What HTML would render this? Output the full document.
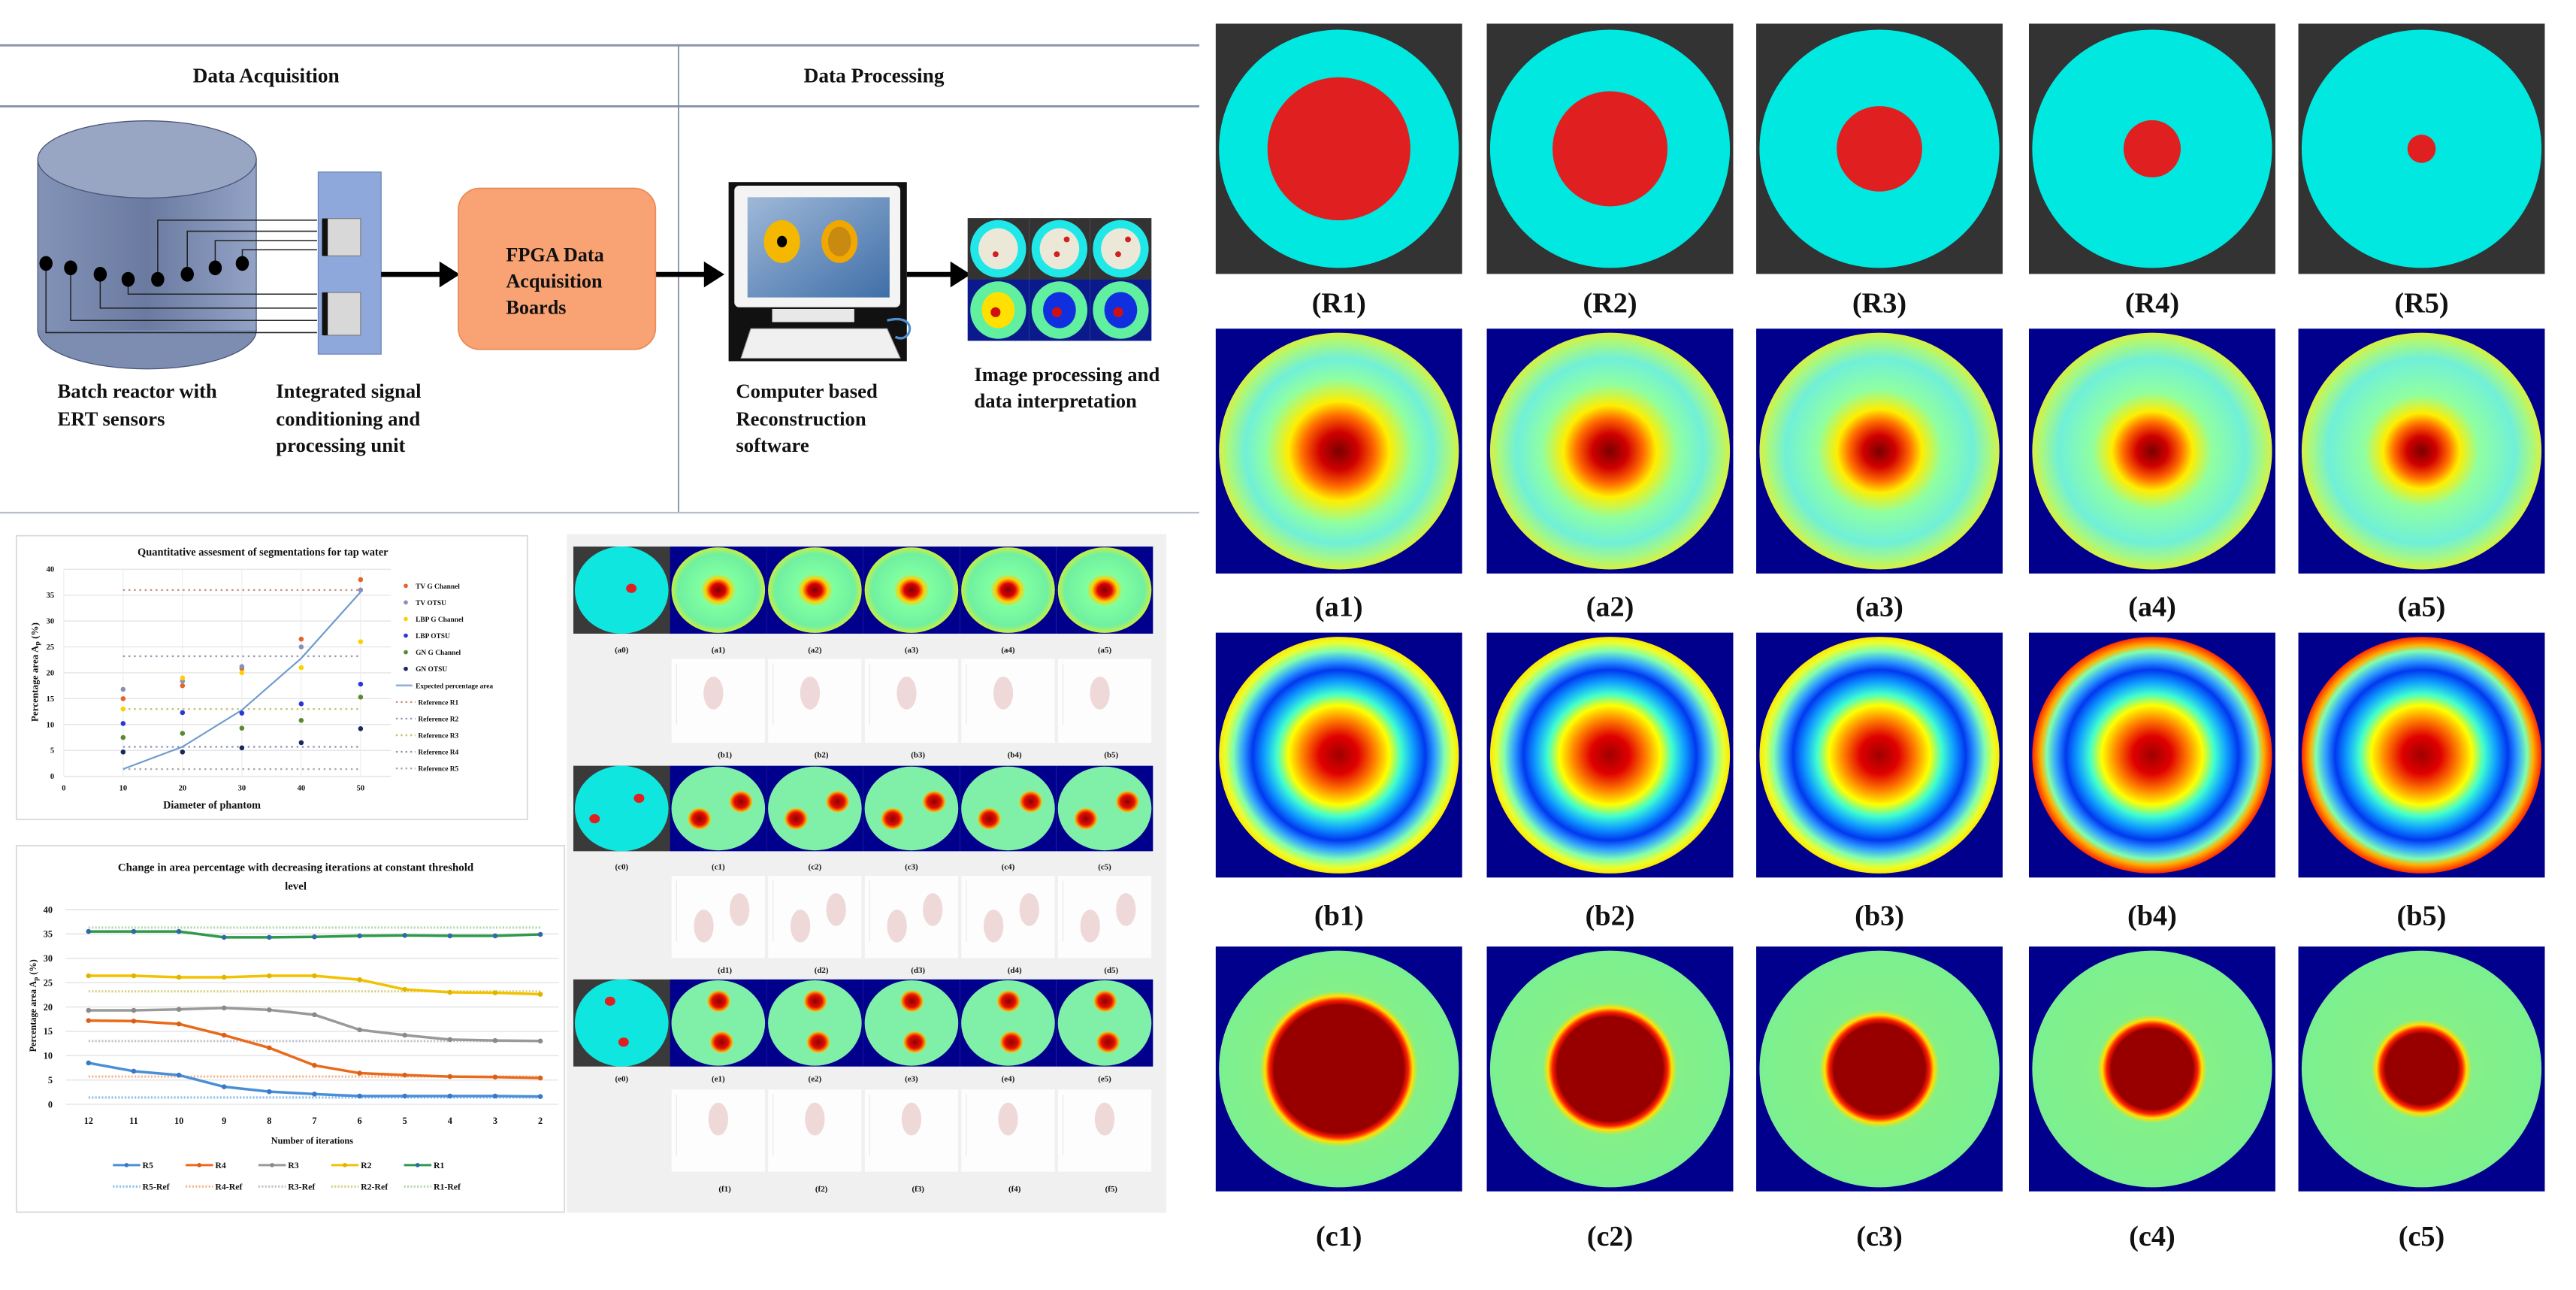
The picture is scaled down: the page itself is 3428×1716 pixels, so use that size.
<!DOCTYPE html>
<html><head><meta charset="utf-8"><title>ERT figure</title>
<style>
html,body{margin:0;padding:0;background:#fff;}
svg{display:block;}
text{font-family:"Liberation Serif",serif;font-weight:bold;fill:#111;}
</style></head>
<body>
<svg id="fig" xmlns="http://www.w3.org/2000/svg" width="3428" height="1716" viewBox="0 0 1568 785" preserveAspectRatio="none">
<defs>
<linearGradient id="cylGrad" x1="0" x2="1" y1="0" y2="0">
<stop offset="0" stop-color="#8393b8"/><stop offset="0.5" stop-color="#6b7aa0"/><stop offset="1" stop-color="#93a3c6"/>
</linearGradient>
<linearGradient id="screenGrad" x1="0" x2="1" y1="0" y2="1">
<stop offset="0" stop-color="#9fb8d8"/><stop offset="1" stop-color="#3f6fa8"/>
</linearGradient>
</defs>
<rect x="0" y="0" width="1568" height="785" fill="#ffffff"/>

<!-- ===== Top-left workflow diagram ===== -->
<g>
<line x1="0" y1="27.6" x2="730" y2="27.6" stroke="#8a93a8" stroke-width="1.3"/>
<line x1="0" y1="64.7" x2="730" y2="64.7" stroke="#8a93a8" stroke-width="1.3"/>
<line x1="413" y1="27.6" x2="413" y2="312" stroke="#7e8aa8" stroke-width="0.8"/>
<line x1="0" y1="312" x2="730" y2="312" stroke="#b8bfcc" stroke-width="1"/>
<text x="162" y="50" font-size="12.5" text-anchor="middle">Data Acquisition</text>
<text x="532" y="50" font-size="12.5" text-anchor="middle">Data Processing</text>

<g>
<rect x="23" y="97" width="133" height="104" fill="url(#cylGrad)" stroke="#4a5575" stroke-width="0.6"/>
<ellipse cx="89.5" cy="201" rx="66.5" ry="23.5" fill="#7d8db2" stroke="#4a5575" stroke-width="0.6"/>
<rect x="23.3" y="97" width="132.4" height="104" fill="url(#cylGrad)"/>
<ellipse cx="89.5" cy="97" rx="66.5" ry="23.5" fill="#98a6c4" stroke="#4a5575" stroke-width="0.6"/>
</g>
<g stroke="#222" stroke-width="0.7" fill="none">
<polyline points="96,170 96,134 193,134"/>
<polyline points="114,166.9 114,140.7 193,140.7"/>
<polyline points="131,163 131,146.4 193,146.4"/>
<polyline points="147.5,160.3 147.5,152 193,152"/>
<polyline points="28,160.3 28,202.4 193,202.4"/>
<polyline points="43,163 43,195 193,195"/>
<polyline points="61,166.9 61,187.5 193,187.5"/>
<polyline points="78,170 78,179 193,179"/>
</g>
<g fill="#000">
<ellipse cx="28" cy="160.3" rx="4" ry="4.5"/><ellipse cx="43" cy="163" rx="4" ry="4.5"/>
<ellipse cx="61" cy="166.9" rx="4" ry="4.5"/><ellipse cx="78" cy="170" rx="4" ry="4.5"/>
<ellipse cx="96" cy="170" rx="4" ry="4.5"/><ellipse cx="114" cy="166.9" rx="4" ry="4.5"/>
<ellipse cx="131" cy="163" rx="4" ry="4.5"/><ellipse cx="147.5" cy="160.3" rx="4" ry="4.5"/>
</g>
<g>
<rect x="193.7" y="104.7" width="38.3" height="110.8" fill="#8fa8dc" stroke="#6f86bd" stroke-width="0.6"/>
<rect x="197" y="133" width="22.5" height="22.7" fill="#d8d8d8" stroke="#777" stroke-width="0.5"/>
<rect x="197" y="178" width="22.5" height="26" fill="#d8d8d8" stroke="#777" stroke-width="0.5"/>
<rect x="196" y="133" width="3.5" height="22.7" fill="#111"/>
<rect x="196" y="178" width="3.5" height="26" fill="#111"/>
</g>
<g fill="#000" stroke="#000">
<line x1="232" y1="167" x2="270" y2="167" stroke-width="3"/><polygon points="268,160 279,167 268,174"/>
<line x1="399" y1="167" x2="431" y2="167" stroke-width="3"/><polygon points="429,160 440,167 429,174"/>
<line x1="552" y1="167" x2="581" y2="167" stroke-width="3"/><polygon points="579,160 590,167 579,174"/>
</g>
<g>
<rect x="279" y="114.6" width="120" height="98" rx="13" fill="#f9a273" stroke="#e88b58" stroke-width="0.8"/>
<text x="308" y="159" font-size="12">FPGA Data</text>
<text x="308" y="175" font-size="12">Acquisition</text>
<text x="308" y="191" font-size="12">Boards</text>
</g>
<g>
<rect x="443.5" y="110.8" width="108.5" height="109" fill="#111"/>
<rect x="447" y="113" width="101" height="74" rx="3" fill="#f4f4f4"/>
<rect x="455" y="120" width="86.5" height="61" fill="url(#screenGrad)"/>
<ellipse cx="476" cy="147" rx="11" ry="13" fill="#f5b800"/>
<ellipse cx="476" cy="147" rx="3" ry="3.5" fill="#000"/>
<ellipse cx="511" cy="147" rx="11" ry="13" fill="#f0a800"/>
<ellipse cx="511" cy="147" rx="7" ry="9" fill="#c88a10"/>
<rect x="470" y="188" width="50" height="8" fill="#e8e8e8"/>
<polygon points="451,218 457,200 540,200 548,218" fill="#f0f0f0" stroke="#999" stroke-width="0.5"/>
<path d="M540,195 C560,190 555,210 545,205" stroke="#4f8fd0" stroke-width="1.5" fill="none"/>
</g>
<g id="miniGrid"></g>
<g font-size="12.2">
<text x="35" y="242">Batch reactor with</text>
<text x="35" y="259">ERT sensors</text>
<text x="168" y="242">Integrated signal</text>
<text x="168" y="259">conditioning and</text>
<text x="168" y="275">processing unit</text>
<text x="448" y="242">Computer based</text>
<text x="448" y="259">Reconstruction</text>
<text x="448" y="275">software</text>
<text x="593" y="232">Image processing and</text>
<text x="593" y="248">data interpretation</text>
</g>
</g>

<!-- ===== Chart 1 ===== -->
<g id="chart1">
<rect x="10" y="326" width="311" height="172.7" fill="#fff" stroke="#d8d8d8" stroke-width="0.8"/>
<text x="160" y="338" font-size="6.6" text-anchor="middle">Quantitative assesment of segmentations for tap water</text>
<text x="129" y="492" font-size="6.5" text-anchor="middle">Diameter of phantom</text>
<text x="23" y="409" font-size="6" text-anchor="middle" transform="rotate(-90 23 409)">Percentage area A<tspan font-size="4.5" dy="1">p</tspan><tspan dy="-1"> (%)</tspan></text>
</g>

<!-- ===== Chart 2 ===== -->
<g id="chart2">
<rect x="10" y="514.6" width="333.6" height="223" fill="#fff" stroke="#d8d8d8" stroke-width="0.8"/>
<text x="180" y="530" font-size="6.8" text-anchor="middle">Change in area percentage with decreasing iterations at constant threshold</text>
<text x="180" y="541.5" font-size="6.8" text-anchor="middle">level</text>
<text x="190" y="696" font-size="5.6" text-anchor="middle">Number of iterations</text>
<text x="22" y="612" font-size="5.6" text-anchor="middle" transform="rotate(-90 22 612)">Percentage area A<tspan font-size="4.2" dy="1">p</tspan><tspan dy="-1"> (%)</tspan></text>
</g>

<!-- ===== Middle panel ===== -->
<g id="midPanel">
<rect x="345" y="325" width="365" height="413" fill="#f0f0f0"/>
</g>

<!-- ===== Right grid ===== -->
<g id="rightGrid"></g>
</svg>

<script>
const NS = "http://www.w3.org/2000/svg";
const svg = document.getElementById('fig');
function mk(tag, attrs, parent){
  const e = document.createElementNS(NS, tag);
  for (const k in attrs) e.setAttribute(k, attrs[k]);
  (parent || svg).appendChild(e);
  return e;
}
const defs = svg.querySelector('defs');
function grad(id, stops){
  const g = mk('radialGradient', {id: id, cx: 0.5, cy: 0.5, r: 0.5}, defs);
  stops.forEach(s => mk('stop', {offset: s[0], 'stop-color': s[1]}, g));
}

/* ---------- Chart 1 data ---------- */
const c1Diam = [10, 20, 30, 40, 50];
const c1Yticks = [0, 5, 10, 15, 20, 25, 30, 35, 40];
const c1Xticks = [0, 10, 20, 30, 40, 50];
const tvG = [15, 17.5, 20.8, 26.5, 38];
const tvO = [16.8, 18.4, 21.2, 25, 36];
const lbpG = [13, 19, 20, 21, 26];
const lbpO = [10.2, 12.3, 12.2, 14, 17.8];
const gnG = [7.5, 8.3, 9.3, 10.8, 15.3];
const gnO = [4.7, 4.7, 5.5, 6.5, 9.2];
const expected = [1.4, 5.7, 12.8, 22.8, 35.6];
const refVals1 = [36, 23.2, 13, 5.7, 1.4];
const c1Series = ['TV G Channel','TV OTSU','LBP G Channel','LBP OTSU','GN G Channel','GN OTSU'];
const c1Colors = ['#e2652a','#8a8fb8','#ffd000','#2838d8','#5a8a30','#1a2660'];
const c1RefNames = ['Reference R1','Reference R2','Reference R3','Reference R4','Reference R5'];
const c1RefColors = ['#c89088','#9a98b8','#c8c078','#8898b8','#a8a8a8'];

const ch1 = document.getElementById('chart1');
const x1 = v => 38.8 + v * (219.5 - 38.8) / 50;
const y1 = v => 472.4 - v * (472.4 - 346.4) / 40;
c1Yticks.forEach(t => {
  const gl = mk('line', {x1: x1(0), x2: 238, y1: y1(t), y2: y1(t), stroke: '#e3e3e3', 'stroke-width': 0.6}, ch1);
  
  
  const tl = mk('text', {x: 33, y: y1(t) + 1.6, 'font-size': 4.8, 'text-anchor': 'end'}, ch1);
  tl.textContent = t;
  
  
});
c1Xticks.forEach(t => {
  const vl = mk('line', {x1: x1(t), x2: x1(t), y1: y1(0), y2: y1(40), stroke: '#ececec', 'stroke-width': 0.5}, ch1);
  
  
  const tl = mk('text', {x: x1(t), y: 481, 'font-size': 4.8, 'text-anchor': 'middle'}, ch1);
  tl.textContent = t;
  
  
});
refVals1.forEach((v, i) => {
  const l = mk('line', {x1: x1(10), x2: x1(50), y1: y1(v), y2: y1(v), stroke: c1RefColors[i], 'stroke-width': 1.1, 'stroke-dasharray': '1.1 2.2'}, ch1);
  
  
});
const expPath = mk('path', {d: expected.map((v, i) => (i ? 'L' : 'M') + x1(c1Diam[i]) + ',' + y1(v)).join(' '), fill: 'none', stroke: '#6f9ccc', 'stroke-width': 1}, ch1);


[tvG, tvO, lbpG, lbpO, gnG, gnO].forEach((arr, s) => {
  arr.forEach((v, i) => {
    const p = mk('circle', {cx: x1(c1Diam[i]), cy: y1(v), r: 1.5, fill: c1Colors[s]}, ch1);
    
    
  });
});
const c1LegNames = c1Series.concat(['Expected percentage area'], c1RefNames);
c1LegNames.forEach((n, i) => {
  const ly = 356.5 + i * 10.1;
  if (i < 6) {
    const d = mk('circle', {cx: 247, cy: ly, r: 1.3, fill: c1Colors[i]}, ch1);
    
    
  } else if (i === 6) {
    const d = mk('line', {x1: 241, x2: 251, y1: ly, y2: ly, stroke: '#8fb0d8', 'stroke-width': 1.2}, ch1);
    
    
  } else {
    const d = mk('line', {x1: 241, x2: 253, y1: ly, y2: ly, stroke: c1RefColors[i - 7], 'stroke-width': 1.1, 'stroke-dasharray': '1.1 1.8'}, ch1);
    
    
  }
  const t = mk('text', {x: i >= 7 ? 254.5 : 253, y: ly + 1.6, 'font-size': 4.3}, ch1);
  t.textContent = n;
  
  
});

/* ---------- Chart 2 data ---------- */
const iterLabels = ['12','11','10','9','8','7','6','5','4','3','2'];
const c2Yticks = [0, 5, 10, 15, 20, 25, 30, 35, 40];
const r5Vals = [8.5, 6.8, 6, 3.6, 2.6, 2.1, 1.7, 1.7, 1.7, 1.7, 1.6];
const r4Vals = [17.2, 17.1, 16.5, 14.2, 11.6, 8, 6.4, 6, 5.7, 5.6, 5.4];
const r3Vals = [19.3, 19.3, 19.5, 19.8, 19.4, 18.4, 15.3, 14.2, 13.3, 13.1, 13];
const r2Vals = [26.4, 26.4, 26.1, 26.1, 26.4, 26.4, 25.6, 23.6, 23, 22.9, 22.6];
const r1Vals = [35.5, 35.5, 35.5, 34.3, 34.3, 34.4, 34.6, 34.7, 34.6, 34.6, 34.9];
const c2RefVals = [1.4, 5.7, 13, 23.2, 36.3];
const c2Names = ['R5','R4','R3','R2','R1'];
const c2Colors = ['#4a8ed8','#ea6a1c','#9a9a9a','#f2c200','#2e9a4a'];
const c2MarkColors = ['#3a78c8','#d8601a','#8a8a8a','#e0b400','#2e6aa8'];
const c2RefColors = ['#8cc0ec','#f4b890','#c0c4cc','#d8d088','#b8d8b0'];

const ch2 = document.getElementById('chart2');
const x2 = i => 53.9 + i * 27.5;
const y2 = v => 672 - v * (672 - 553.5) / 40;
c2Yticks.forEach(t => {
  const gl = mk('line', {x1: 40, x2: 340, y1: y2(t), y2: y2(t), stroke: '#e5e5e5', 'stroke-width': 0.7}, ch2);
  
  
  const tl = mk('text', {x: 32, y: y2(t) + 2, 'font-size': 5.6, 'text-anchor': 'end'}, ch2);
  tl.textContent = t;
  
  
});
iterLabels.forEach((lab, i) => {
  const tl = mk('text', {x: x2(i), y: 684, 'font-size': 5.6, 'text-anchor': 'middle'}, ch2);
  tl.textContent = lab;
  
  
});
c2RefVals.forEach((v, s) => {
  const l = mk('line', {x1: x2(0), x2: x2(10), y1: y2(v), y2: y2(v), stroke: c2RefColors[s], 'stroke-width': 1.4, 'stroke-dasharray': '1 1'}, ch2);
  
  
});
[r5Vals, r4Vals, r3Vals, r2Vals, r1Vals].forEach((arr, s) => {
  const p = mk('path', {d: arr.map((v, i) => (i ? 'L' : 'M') + x2(i) + ',' + y2(v)).join(' '), fill: 'none', stroke: c2Colors[s], 'stroke-width': 1.6, 'stroke-linejoin': 'round'}, ch2);
  
  
  arr.forEach((v, i) => {
    const m = mk('circle', {cx: x2(i), cy: y2(v), r: 1.5, fill: c2MarkColors[s]}, ch2);
    
    
  });
});
c2Names.forEach((n, s) => {
  const lx = 68.7 + s * 44.3;
  const l1 = mk('line', {x1: lx, x2: lx + 16.7, y1: 709, y2: 709, stroke: c2Colors[s], 'stroke-width': 1.4}, ch2);
  
  
  const m = mk('circle', {cx: lx + 8.3, cy: 709, r: 1.3, fill: c2MarkColors[s]}, ch2);
  
  
  const t1 = mk('text', {x: lx + 18, y: 711, 'font-size': 5.4}, ch2);
  t1.textContent = n;
  
  
  const l2 = mk('line', {x1: lx, x2: lx + 16.7, y1: 722, y2: 722, stroke: c2RefColors[s], 'stroke-width': 1.4, 'stroke-dasharray': '1 1'}, ch2);
  
  
  const t2 = mk('text', {x: lx + 18, y: 724, 'font-size': 5.4}, ch2);
  t2.textContent = n + '-Ref';
  
  
});

/* ---------- Gradients for heatmaps ---------- */
function aStops(k){ return [[0,'#7a0000'],[0.16*k,'#d00000'],[0.3*k,'#ff6a00'],[0.42*k,'#ffee00'],[0.56*k+0.05,'#90ffa0'],[0.78,'#70f0d8'],[0.92,'#a8f880'],[1,'#d8f040']]; }
[1, 0.92, 0.84, 0.8, 0.76].forEach((k, i) => grad('ga' + i, aStops(k)));
function bStops(edgeRed){
  const s = [[0,'#a00000'],[0.16,'#e00000'],[0.3,'#ff8000'],[0.42,'#ffff00'],[0.52,'#40ffd0'],[0.62,'#10a0ff'],[0.72,'#0038f0'],[0.8,'#30a0ff'],[0.88,'#80ffb0']];
  if (edgeRed) { s.push([0.93,'#ffb000']); s.push([1,'#ff2800']); } else { s.push([0.95,'#e8ff30']); s.push([1,'#ffe800']); }
  return s;
}
[false, false, false, true, true].forEach((e, i) => grad('gb' + i, bStops(e)));
[0.58, 0.48, 0.42, 0.38, 0.34].forEach((r, i) => grad('gc' + i, [[0,'#980000'],[r-0.04,'#980000'],[r,'#ff2000'],[r+0.035,'#ffe000'],[r+0.08,'#84f088'],[1,'#7cf090']]));
grad('gmid', [[0,'#7a0000'],[0.15,'#e00000'],[0.27,'#ffd000'],[0.38,'#80ffa0'],[0.85,'#70f0a0'],[1,'#c8f040']]);
grad('gspot', [[0,'#900000'],[0.55,'#e01000'],[0.8,'#ff9000'],[1,'#ffe00000']]);

/* ---------- Right grid ---------- */
const rg = document.getElementById('rightGrid');
const colX = [740, 905, 1069, 1235, 1399];
const colW = 150;
const redR = [43.5, 35, 26, 17.4, 8.6];
const rowLabelsR = ['(R1)','(R2)','(R3)','(R4)','(R5)'];
const rows = [
  {y: 14.4, h: 152.3, ly: 190, pre: 'R'},
  {y: 200, h: 149, ly: 375, pre: 'a'},
  {y: 385, h: 149, ly: 563, pre: 'b'},
  {y: 576, h: 149, ly: 758, pre: 'c'}
];
rows.forEach((row, r) => {
  colX.forEach((cx0, c) => {
    const g = mk('g', {}, rg);
    
    
    const ccx = cx0 + colW / 2, ccy = row.y + row.h / 2;
    mk('rect', {x: cx0, y: row.y, width: colW, height: row.h, fill: r === 0 ? '#333333' : '#00008c'}, g);
    if (r === 0) {
      mk('ellipse', {cx: ccx, cy: ccy, rx: 73, ry: 72.5, fill: '#00e8e0'}, g);
      mk('ellipse', {cx: ccx, cy: ccy, rx: redR[c], ry: redR[c], fill: '#e02020'}, g);
    } else {
      const gid = (r === 1 ? 'ga' : r === 2 ? 'gb' : 'gc') + c;
      mk('ellipse', {cx: ccx, cy: ccy, rx: 73, ry: 72, fill: 'url(#' + gid + ')'}, g);
    }
    const t = mk('text', {x: ccx, y: row.ly, 'font-size': 17.5, 'text-anchor': 'middle'}, rg);
    t.textContent = r === 0 ? rowLabelsR[c] : '(' + row.pre + (c + 1) + ')';
    
    
  });
});

/* ---------- Middle panel ---------- */
const mp = document.getElementById('midPanel');
const mCellX = [349, 407.8, 466.6, 525.4, 584.2, 643];
const mW = 58.8;
const imgRows = [{y: 332.6, h: 53, ly: 397, p: 'a'}, {y: 466, h: 52, ly: 529, p: 'c'}, {y: 596, h: 53, ly: 658, p: 'e'}];
const plotRows = [{y: 401, h: 51, ly: 461, p: 'b'}, {y: 533, h: 50, ly: 592, p: 'd'}, {y: 663, h: 50, ly: 725, p: 'f'}];
const spots = [
  [[0.6, 0.48]],
  [[0.22, 0.62], [0.68, 0.38]],
  [[0.38, 0.25], [0.52, 0.72]]
];
imgRows.forEach((row, r) => {
  mCellX.forEach((x0, c) => {
    const g = mk('g', {}, mp);
    
    
    const cx = x0 + mW / 2, cy = row.y + row.h / 2;
    if (c === 0) {
      mk('rect', {x: x0, y: row.y, width: mW, height: row.h, fill: '#3a3a3a'}, g);
      mk('ellipse', {cx: cx, cy: cy, rx: 28.5, ry: row.h / 2, fill: '#10e6e0'}, g);
      spots[r].forEach(s => mk('ellipse', {cx: x0 + s[0] * mW, cy: row.y + s[1] * row.h, rx: 3.2, ry: 2.8, fill: '#e02020'}, g));
      if (r === 0) { }
    } else {
      mk('rect', {x: x0, y: row.y, width: mW, height: row.h, fill: '#00008c'}, g);
      mk('ellipse', {cx: cx, cy: cy, rx: 28.5, ry: row.h / 2 - 0.5, fill: r === 0 ? 'url(#gmid)' : '#80f0a8'}, g);
      if (r > 0) {
        const sp = r === 1 ? [[0.22, 0.62], [0.65, 0.42]] : [[0.42, 0.25], [0.45, 0.72]];
        sp.forEach(s => mk('ellipse', {cx: x0 + s[0] * mW + 5, cy: row.y + s[1] * row.h, rx: 7.5, ry: 7, fill: 'url(#gspot)'}, g));
      }
    }
    const t = mk('text', {x: cx, y: row.ly, 'font-size': 5, 'text-anchor': 'middle'}, mp);
    t.textContent = '(' + row.p + c + ')';
    
    
  });
});
plotRows.forEach((row, r) => {
  mCellX.slice(1).forEach((x0, c) => {
    const g = mk('g', {}, mp);
    
    
    mk('rect', {x: x0 + 1, y: row.y, width: mW - 2, height: row.h, fill: '#fdfdfd'}, g);
    mk('line', {x1: x0 + 4, x2: x0 + 4, y1: row.y + 3, y2: row.y + 40, stroke: '#e6e6e6', 'stroke-width': 0.5}, g);
    const peaks = r === 0 ? [[0.45, 0.25]] : r === 1 ? [[0.35, 0.45], [0.72, 0.25]] : [[0.5, 0.2]];
    peaks.forEach(pk => mk('ellipse', {cx: x0 + pk[0] * mW, cy: row.y + pk[1] * row.h + 8, rx: 6, ry: 10, fill: '#e8c8c8', opacity: 0.7}, g));
    const t = mk('text', {x: x0 + mW / 2 + 4, y: row.ly, 'font-size': 5, 'text-anchor': 'middle'}, mp);
    t.textContent = '(' + row.p + (c + 1) + ')';
    
    
  });
});

/* ---------- Mini grid in workflow ---------- */
const mg = document.getElementById('miniGrid');
const miniX = [589, 626.3, 663.6];
miniX.forEach((x0, c) => {
  [132.7, 170].forEach((y0, r) => {
    const g = mk('g', {}, mg);
    
    
    mk('rect', {x: x0, y: y0, width: 37.3, height: 37.4, fill: r === 0 ? '#333' : '#0a1a8c'}, g);
    mk('ellipse', {cx: x0 + 18.6, cy: y0 + 18.7, rx: 17, ry: 17.5, fill: r === 0 ? '#20e8e8' : '#60f0a0'}, g);
    if (r === 0) {
      mk('ellipse', {cx: x0 + 18.6, cy: y0 + 18.7, rx: 12, ry: 12.5, fill: '#ece8d8'}, g);
      mk('circle', {cx: x0 + 17, cy: y0 + 22, r: 1.8, fill: '#d02020'}, g);
      if (c > 0) mk('circle', {cx: x0 + 23, cy: y0 + 13, r: 1.8, fill: '#d02020'}, g);
    } else {
      mk('ellipse', {cx: x0 + 18.6, cy: y0 + 18.7, rx: 10, ry: 11, fill: c === 0 ? '#ffe000' : '#1030e0'}, g);
      mk('circle', {cx: x0 + 17, cy: y0 + 20, r: 3, fill: '#d01010'}, g);
    }
  });
});
</script>
</body></html>
